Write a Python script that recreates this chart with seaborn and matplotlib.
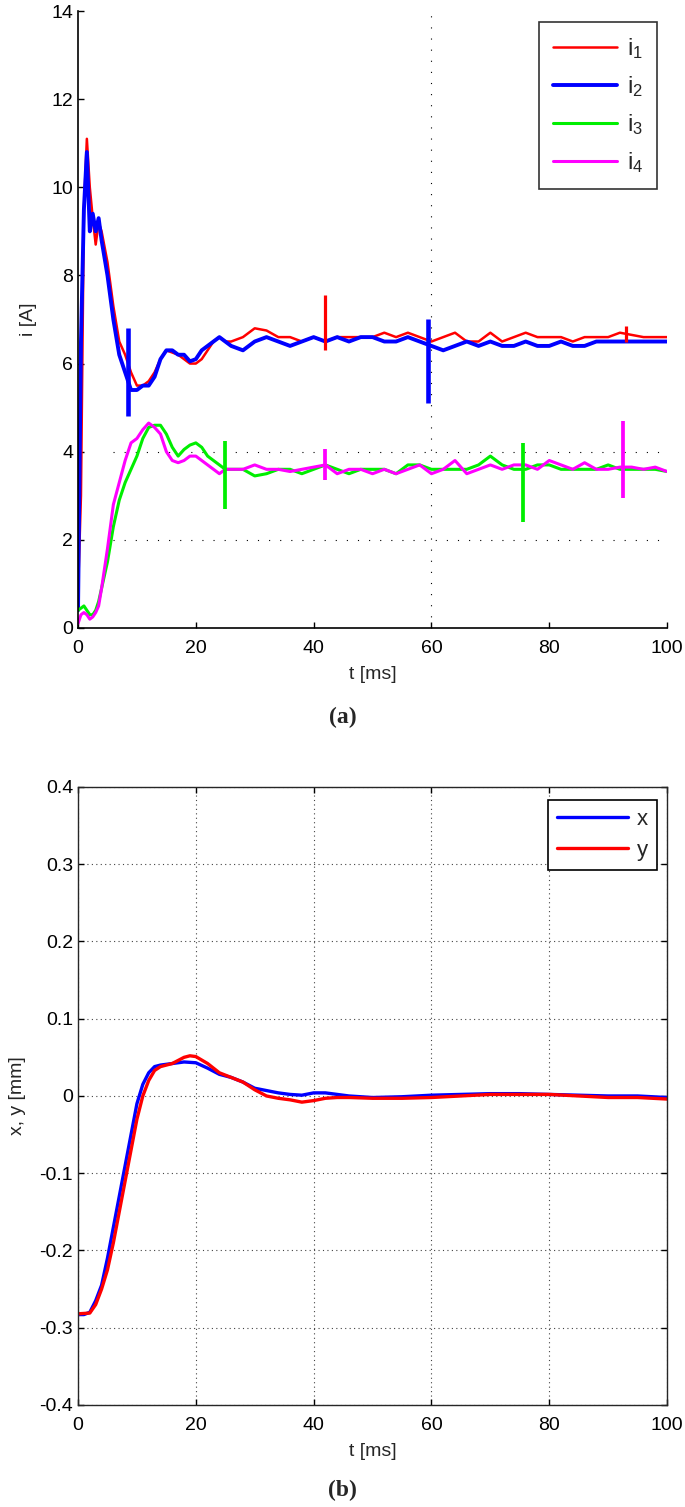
import numpy as np
import pandas as pd
import matplotlib
matplotlib.use('Agg')
import matplotlib.pyplot as plt
import seaborn as sns

### coil currents (a) and x, y position (b) after switch-on

# time grid for the currents, ms
t_cur = [0, 0.5, 1, 1.5, 2, 2.5, 3, 3.5,
         4, 5, 6, 7, 8, 9, 10, 11, 12, 13, 14, 15, 16, 17, 18, 19, 20,
         21, 22, 23, 24, 25, 26,
         28, 30, 32, 34, 36, 38, 40, 42, 44, 46, 48, 50, 52, 54, 56, 58,
         60, 62, 64, 66, 68, 70, 72, 74, 76, 78, 80, 82, 84, 86, 88, 90,
         92, 94, 96, 98, 100]

i1 = [0.8, 3.0, 9.5, 11.1, 10.0, 9.3, 8.7, 9.2,
      9.0, 8.3, 7.3, 6.5, 6.2, 5.8, 5.5, 5.5, 5.6, 5.8, 6.1, 6.3, 6.25, 6.2, 6.1, 6.0, 6.0,
      6.1, 6.3, 6.5, 6.6, 6.5, 6.5,
      6.6, 6.8, 6.75, 6.6, 6.6, 6.5, 6.6, 6.5, 6.6, 6.6, 6.6, 6.6, 6.7, 6.6, 6.7, 6.6,
      6.5, 6.6, 6.7, 6.5, 6.5, 6.7, 6.5, 6.6, 6.7, 6.6, 6.6, 6.6, 6.5, 6.6, 6.6, 6.6,
      6.7, 6.65, 6.6, 6.6, 6.6]

i2 = [0.4, 6.5, 9.5, 10.8, 9.0, 9.4, 9.0, 9.3,
      8.8, 8.0, 7.0, 6.2, 5.8, 5.4, 5.4, 5.5, 5.5, 5.7, 6.1, 6.3, 6.3, 6.2, 6.2, 6.05, 6.1,
      6.3, 6.4, 6.5, 6.6, 6.5, 6.4,
      6.3, 6.5, 6.6, 6.5, 6.4, 6.5, 6.6, 6.5, 6.6, 6.5, 6.6, 6.6, 6.5, 6.5, 6.6, 6.5,
      6.4, 6.3, 6.4, 6.5, 6.4, 6.5, 6.4, 6.4, 6.5, 6.4, 6.4, 6.5, 6.4, 6.4, 6.5, 6.5,
      6.5, 6.5, 6.5, 6.5, 6.5]

i3 = [0.4, 0.45, 0.5, 0.4, 0.3, 0.3, 0.4, 0.6,
      0.9, 1.5, 2.3, 2.9, 3.3, 3.6, 3.9, 4.3, 4.55, 4.6, 4.6, 4.4, 4.1, 3.9, 4.05, 4.15, 4.2,
      4.1, 3.9, 3.8, 3.7, 3.6, 3.6,
      3.6, 3.45, 3.5, 3.6, 3.6, 3.5, 3.6, 3.7, 3.6, 3.5, 3.6, 3.6, 3.6, 3.5, 3.7, 3.7,
      3.6, 3.6, 3.6, 3.6, 3.7, 3.9, 3.7, 3.6, 3.6, 3.7, 3.7, 3.6, 3.6, 3.6, 3.6, 3.7,
      3.6, 3.6, 3.6, 3.6, 3.55]

i4 = [0.1, 0.3, 0.35, 0.3, 0.2, 0.25, 0.35, 0.5,
      0.9, 1.8, 2.8, 3.3, 3.8, 4.2, 4.3, 4.5, 4.65, 4.55, 4.4, 4.0, 3.8, 3.75, 3.8, 3.9, 3.9,
      3.8, 3.7, 3.6, 3.5, 3.6, 3.6,
      3.6, 3.7, 3.6, 3.6, 3.55, 3.6, 3.65, 3.7, 3.5, 3.6, 3.6, 3.5, 3.6, 3.5, 3.6, 3.7,
      3.5, 3.6, 3.8, 3.5, 3.6, 3.7, 3.6, 3.7, 3.7, 3.6, 3.8, 3.7, 3.6, 3.75, 3.6, 3.6,
      3.65, 3.65, 3.6, 3.65, 3.55]

# short switching spikes on the currents
spike_series = ['i1', 'i1', 'i2', 'i2', 'i3', 'i3', 'i4', 'i4']
spike_t      = [42, 93, 8.5, 59.5, 25, 75.5, 42, 92.5]
spike_lo     = [6.3, 6.5, 4.8, 5.1, 2.7, 2.4, 3.35, 2.95]
spike_hi     = [7.55, 6.85, 6.8, 7.0, 4.25, 4.2, 4.05, 4.7]

# position
t_x = [0, 1, 2, 3, 4, 5, 6, 7, 8, 9, 10, 11, 12, 13, 14, 16, 18, 20, 22, 24, 26, 28,
       30, 32, 34, 36, 38, 40, 42, 44, 46, 48, 50, 55, 60, 65, 70, 75, 80, 85, 90, 95, 100]
pos_x = [-0.283, -0.283, -0.28, -0.265, -0.245, -0.21, -0.17, -0.13, -0.09, -0.05, -0.01,
         0.015, 0.03, 0.038, 0.04, 0.042, 0.044, 0.043, 0.036, 0.028, 0.024, 0.018,
         0.01, 0.007, 0.004, 0.002, 0.001, 0.004, 0.004, 0.002, 0.0, -0.001, -0.002,
         -0.001, 0.001, 0.002, 0.003, 0.003, 0.002, 0.001, 0.0, 0.0, -0.002]

t_y = [0, 2, 3, 4, 5, 6, 7, 8, 9, 10, 11, 12, 13, 14, 16, 18, 19, 20, 22, 24, 26, 28,
       30, 32, 34, 36, 38, 40, 42, 44, 46, 50, 55, 60, 65, 70, 75, 80, 85, 90, 95, 100]
pos_y = [-0.282, -0.281, -0.27, -0.25, -0.225, -0.19, -0.15, -0.11, -0.07, -0.03, 0.0,
         0.02, 0.033, 0.038, 0.042, 0.05, 0.052, 0.051, 0.042, 0.03, 0.024, 0.018,
         0.008, 0.0, -0.003, -0.005, -0.008, -0.006, -0.003, -0.002, -0.002, -0.003,
         -0.003, -0.002, 0.0, 0.002, 0.002, 0.002, 0.0, -0.002, -0.002, -0.004]

sns.set_style("ticks")
plt.rcParams['font.family'] = ['Liberation Sans', 'DejaVu Sans']
plt.rcParams['mathtext.fontset'] = 'custom'
plt.rcParams['mathtext.it'] = 'Liberation Sans'
plt.rcParams['mathtext.rm'] = 'Liberation Sans'

fs = 14
fig = plt.figure(figsize=(6.85, 15.07), dpi=100)

# ---------------- (a) currents
ax1 = fig.add_axes([0.1139, 0.5833, 0.8599, 0.4094])

cur = {'i1': (i1, '#ff0000', 1.8, '$\\mathrm{i}_1$'),
       'i2': (i2, '#0000ff', 2.8, '$\\mathrm{i}_2$'),
       'i3': (i3, '#00ee00', 2.2, '$\\mathrm{i}_3$'),
       'i4': (i4, '#ff00ff', 2.2, '$\\mathrm{i}_4$')}

# sparse dotted guide lines as in the original print
ax1.axhline(4, color='k', ls=(0, (1, 9)), lw=0.8, xmin=0.06, xmax=0.99, zorder=0)
ax1.axhline(2, color='k', ls=(0, (1, 9)), lw=0.8, xmin=0.06, xmax=0.99, zorder=0)
ax1.axvline(60, color='k', ls=(0, (1, 9)), lw=0.8, zorder=0)

for key, (vals, col, lw, lab) in cur.items():
    sns.lineplot(x=t_cur, y=vals, ax=ax1, color=col, lw=lw, label=lab,
                 estimator=None, sort=False)

for s, t, lo, hi in zip(spike_series, spike_t, spike_lo, spike_hi):
    ax1.vlines(t, lo, hi, color=cur[s][1], lw=cur[s][2] + 0.5)

ax1.set_xlim(0, 100)
ax1.set_ylim(0, 14)
ax1.set_xticks(range(0, 101, 20))
ax1.set_yticks(range(0, 15, 2))
ax1.tick_params(direction='in', labelsize=fs, length=4, width=1, colors='k')
ax1.tick_params(axis='x', pad=9)
ax1.set_xlabel("t [ms]", fontsize=fs, labelpad=6)
ax1.set_ylabel("i [A]", fontsize=fs, labelpad=10)
for sp in ['top', 'right']:
    ax1.spines[sp].set_visible(False)
for sp in ['left', 'bottom']:
    ax1.spines[sp].set_color('k')
    ax1.spines[sp].set_linewidth(1.2)

leg1 = ax1.legend(loc='upper right', bbox_to_anchor=(0.983, 0.982), fontsize=fs + 3,
                  frameon=True, fancybox=False, edgecolor='k', handlelength=2.7,
                  borderpad=0.6, labelspacing=0.55, handletextpad=0.4,
                  borderaxespad=0)
leg1.get_frame().set_linewidth(1.2)

fig.text(0.5, 1 - 717 / 1507, "(a)", ha='center', va='center', fontsize=17,
         fontweight='bold', family='Liberation Serif')

# ---------------- (b) position
ax2 = fig.add_axes([0.1139, 0.0677, 0.8599, 0.4101])

sns.lineplot(x=t_x, y=pos_x, ax=ax2, color='#0000ff', lw=2.4, label='x',
             estimator=None, sort=False)
sns.lineplot(x=t_y, y=pos_y, ax=ax2, color='#ff0000', lw=2.4, label='y',
             estimator=None, sort=False)

ax2.set_xlim(0, 100)
ax2.set_ylim(-0.4, 0.4)
ax2.set_xticks(range(0, 101, 20))
ax2.set_yticks(np.round(np.arange(-0.4, 0.41, 0.1), 1))
ax2.set_yticklabels(['-0.4', '-0.3', '-0.2', '-0.1', '0', '0.1', '0.2', '0.3', '0.4'])
ax2.grid(True, color='#444444', ls=(0, (1, 3)), lw=0.8)
ax2.tick_params(direction='in', labelsize=fs, length=4, width=1, colors='k',
                top=True, right=True)
ax2.tick_params(axis='x', pad=9)
ax2.set_xlabel("t [ms]", fontsize=fs, labelpad=6)
ax2.set_ylabel("x, y [mm]", fontsize=fs, labelpad=10)
for sp in ax2.spines.values():
    sp.set_color('#262626')
    sp.set_linewidth(1.0)

leg2 = ax2.legend(loc='upper right', bbox_to_anchor=(0.983, 0.979), fontsize=fs + 2,
                  frameon=True, fancybox=False, edgecolor='k', handlelength=3.2,
                  borderpad=0.4, labelspacing=0.45, handletextpad=0.4,
                  borderaxespad=0)
leg2.get_frame().set_linewidth(1.2)
leg2.get_frame().set_alpha(1)

fig.text(0.5, 1 - 1490 / 1507, "(b)", ha='center', va='center', fontsize=17,
         fontweight='bold', family='Liberation Serif')

plt.savefig("out.png", dpi=100)
